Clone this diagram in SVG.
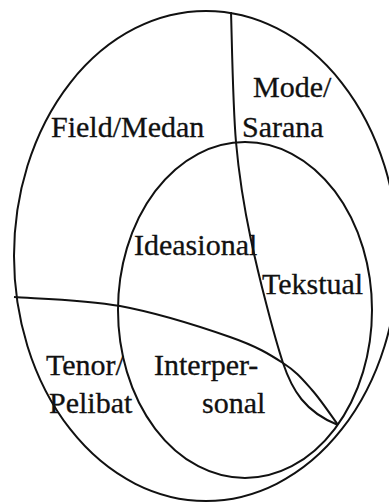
<svg xmlns="http://www.w3.org/2000/svg" width="389" height="502" viewBox="0 0 389 502">
  <style>
    .line { fill: none; stroke: #111; stroke-width: 2; }
    .label { font-family: "Liberation Serif", "Times New Roman", serif; font-size: 30px; fill: #111; stroke: #111; stroke-width: 0.3; }
  </style>
  <rect width="389" height="502" fill="#fff"/>

  <!-- context: outer ellipse -->
  <g id="context">
    <ellipse class="line" cx="206" cy="256" rx="192" ry="245"/>
  </g>

  <!-- metafunctions: inner ellipse -->
  <g id="metafunctions">
    <ellipse class="line" cx="245" cy="310" rx="127" ry="168"/>
  </g>

  <!-- dividing curves between the regions -->
  <g id="connectors">
    <path id="divider-mode" class="line" d="M231,12 C231.8,33.7 232.7,104 236,142 C239.3,180 243.2,203.2 251,240 C258.8,276.8 274,335.8 283,363 C292,390 305,412 338,425"/>
    <path id="divider-tenor" class="line" d="M14,297 C31.7,298.5 84,299.3 120,306 C156,312.7 202.8,327.5 230,337 C257.2,346.5 269.3,354.2 283,363 C296.7,371.8 302.8,379.7 312,390 C321.2,400.3 333.7,419.2 338,425"/>
  </g>

  <g id="labels">
    <g id="field"><text class="label" x="51" y="136.5">Field/Medan</text></g>
    <g id="mode">
      <text class="label" x="253" y="96.5">Mode/</text>
      <text class="label" x="242" y="136.5">Sarana</text>
    </g>
    <g id="ideasional"><text class="label" x="134" y="254.5">Ideasional</text></g>
    <g id="tekstual"><text class="label" x="262" y="294">Tekstual</text></g>
    <g id="tenor">
      <text class="label" x="46" y="375">Tenor/</text>
      <text class="label" x="49" y="413">Pelibat</text>
    </g>
    <g id="interpersonal">
      <text class="label" x="154" y="375">Interper-</text>
      <text class="label" x="202" y="413">sonal</text>
    </g>
  </g>
</svg>
